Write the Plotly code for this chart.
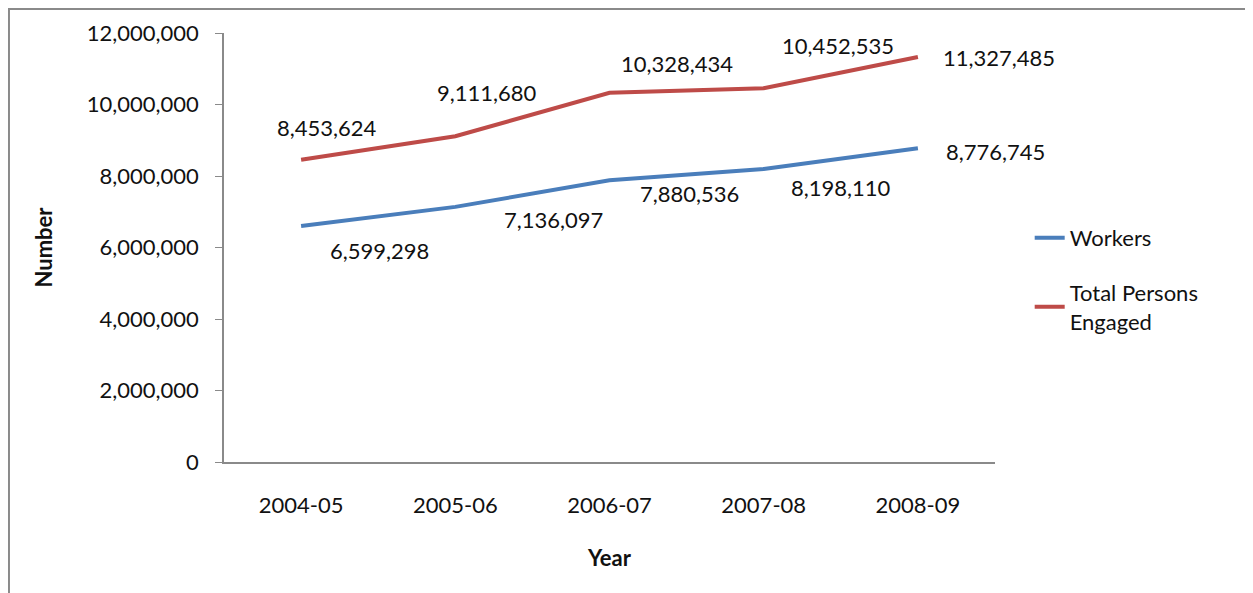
import plotly.graph_objects as go

# donnees
years = ['2004-05', '2005-06', '2006-07', '2007-08', '2008-09']
workers = [6599298, 7136097, 7880536, 8198110, 8776745]
total_engaged = [8453624, 9111680, 10328434, 10452535, 11327485]

# decalage des etiquettes (pixels) comme dans l'original
workers_shift = [(78, -24), (98, -13), (80, -13), (77, -19), (78, -3)]
total_shift = [(26, 32), (32, 44), (67, 29), (74, 43), (81, 0)]

font = 'Lato'
blue = '#4A7EBB'
red = '#BE4B48'

fig = go.Figure()
fig.add_trace(go.Scatter(x=years, y=workers, mode='lines', name='Workers',
                         legendgroup='w', line=dict(color=blue, width=4)))
fig.add_trace(go.Scatter(x=years, y=total_engaged, mode='lines', name='Total Persons<br>Engaged',
                         legendgroup='t', line=dict(color=red, width=4)))

for serie, shifts in ((workers, workers_shift), (total_engaged, total_shift)):
	for yr, v, (dx, dy) in zip(years, serie, shifts):
		fig.add_annotation(x=yr, y=v, text=f'{v:,}', showarrow=False,
		                   xshift=dx, yshift=dy, font=dict(size=22, color='#111111', family=font))

# cadre autour du graphique
fig.add_shape(type='rect', xref='paper', yref='paper',
              x0=-0.2789, x1=1.36, y0=-0.34, y1=1.0559,
              line=dict(color='#8a8a8a', width=2), fillcolor='rgba(0,0,0,0)')

# la page html ajoute une marge de 8px, on compense
fig.update_layout(
	width=1253, height=593,
	margin=dict(l=216, r=266, t=25, b=139),
	paper_bgcolor='white', plot_bgcolor='white',
	font=dict(family=font, size=22, color='#111111'),
	showlegend=True,
	legend=dict(x=1.045, y=0.571, xanchor='left', yanchor='top',
	            font=dict(size=22, family=font), tracegroupgap=23,
	            bgcolor='rgba(0,0,0,0)'),
)
fig.update_xaxes(type='category', range=[-0.5, 4.5], showgrid=False,
                 showline=True, linecolor='#8a8a8a', linewidth=1.5,
                 ticks='', ticklabelstandoff=23,
                 title=dict(text='<b>Year</b>', font=dict(size=22, family=font), standoff=33))
fig.update_yaxes(range=[0, 12000000], dtick=2000000, tickformat=',d', showgrid=False,
                 showline=True, linecolor='#8a8a8a', linewidth=1.5,
                 ticks='outside', ticklen=7, tickcolor='#8a8a8a', ticklabelstandoff=12,
                 zeroline=False,
                 title=dict(text='<b>Number</b>', font=dict(size=22, family=font), standoff=28))

fig.write_html('out.html')
